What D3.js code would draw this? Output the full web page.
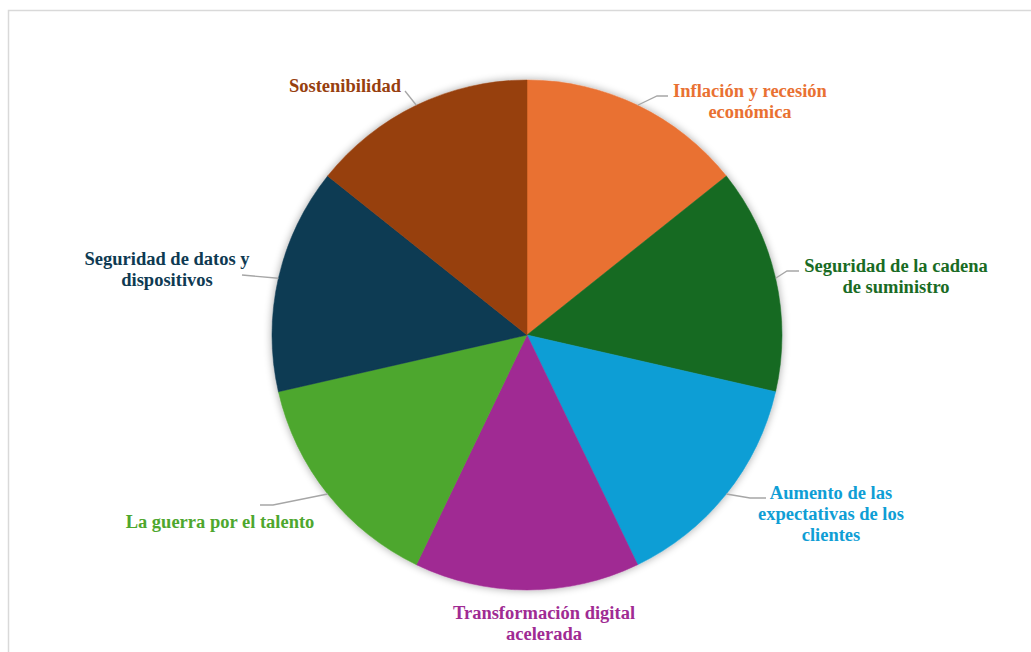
<!DOCTYPE html>
<html>
<head>
<meta charset="utf-8">
<script src="https://cdn.jsdelivr.net/npm/d3@7"></script>
<style>
  html, body { margin: 0; padding: 0; background: #fff; }
  svg { display: block; }
</style>
</head>
<body>
<svg id="chart" width="1031" height="652"></svg>
<script>
// ---- Data ----
const categories = [
  "Inflación y recesión económica",
  "Seguridad de la cadena de suministro",
  "Aumento de las expectativas de los clientes",
  "Transformación digital acelerada",
  "La guerra por el talento",
  "Seguridad de datos y dispositivos",
  "Sostenibilidad"
];
const values = [1, 1, 1, 1, 1, 1, 1];
const labelLines = [
  ["Inflación y recesión", "económica"],
  ["Seguridad de la cadena", "de suministro"],
  ["Aumento de las", "expectativas de los", "clientes"],
  ["Transformación digital", "acelerada"],
  ["La guerra por el talento"],
  ["Seguridad de datos y", "dispositivos"],
  ["Sostenibilidad"]
];
const colors = ["#E97132", "#196B24", "#0F9ED5", "#A02B93", "#4EA72E", "#0E3A52", "#97400F"];

// ---- Layout (positions of label text and leader-line elbows) ----
const labelLayout = [
  { tx: 750, ty: 97,  elbow: [657, 96],  end: [668, 96] },
  { tx: 896, ty: 272, elbow: [787, 271], end: [799, 271] },
  { tx: 831, ty: 499, elbow: [750, 498], end: [766, 498] },
  { tx: 544, ty: 619, elbow: null, end: null },
  { tx: 220, ty: 528, elbow: [273, 505], end: [260, 505] },
  { tx: 167, ty: 265, elbow: [242, 275], end: [242, 275] },
  { tx: 345, ty: 92,  elbow: [405, 91],  end: [405, 91] }
];

const svg = d3.select("#chart");
const W = 1031, H = 652;
const cx = 527, cy = 335, R = 255;

// border
svg.append("rect")
  .attr("x", 8.5).attr("y", 10.5)
  .attr("width", W + 20).attr("height", H + 20)
  .attr("fill", "#fff").attr("stroke", "#d9d9d9").attr("stroke-width", 1.5);

// shadow filter
const defs = svg.append("defs");
const f = defs.append("filter").attr("id", "shadow")
  .attr("x", "-20%").attr("y", "-20%").attr("width", "140%").attr("height", "140%");
f.append("feGaussianBlur").attr("in", "SourceAlpha").attr("stdDeviation", 4).attr("result", "blur");
f.append("feOffset").attr("in", "blur").attr("dx", 0).attr("dy", 0).attr("result", "off");
f.append("feComponentTransfer").attr("in", "off").attr("result", "shadow")
  .append("feFuncA").attr("type", "linear").attr("slope", 0.35);
const merge = f.append("feMerge");
merge.append("feMergeNode").attr("in", "shadow");
merge.append("feMergeNode").attr("in", "SourceGraphic");

const pie = d3.pie().sort(null).value(d => d);
const arcs = pie(values);
const arc = d3.arc().innerRadius(0).outerRadius(R);

const g = svg.append("g").attr("transform", `translate(${cx},${cy})`);
const pieG = g.append("g").attr("filter", "url(#shadow)");
pieG.selectAll("path").data(arcs).enter().append("path")
  .attr("d", arc)
  .attr("fill", (d, i) => colors[i])
  .attr("stroke", (d, i) => colors[i])
  .attr("stroke-width", 0.5);

// leader lines
arcs.forEach((d, i) => {
  const L = labelLayout[i];
  if (!L.elbow) return;
  const a = (d.startAngle + d.endAngle) / 2;
  const sx = cx + R * Math.sin(a), sy = cy - R * Math.cos(a);
  const pts = [[sx, sy], L.elbow, L.end];
  svg.append("path")
    .attr("d", d3.line()(pts))
    .attr("fill", "none")
    .attr("stroke", "#A6A6A6")
    .attr("stroke-width", 1.3);
});

// labels
labelLines.forEach((lines, i) => {
  const L = labelLayout[i];
  const t = svg.append("text")
    .attr("x", L.tx).attr("y", L.ty)
    .attr("text-anchor", "middle")
    .attr("font-family", "'Liberation Serif', 'Times New Roman', serif")
    .attr("font-weight", "bold")
    .attr("font-size", 18.5)
    .attr("fill", colors[i]);
  lines.forEach((ln, j) => {
    t.append("tspan").attr("x", L.tx).attr("dy", j === 0 ? 0 : 21).text(ln);
  });
});
</script>
</body>
</html>
